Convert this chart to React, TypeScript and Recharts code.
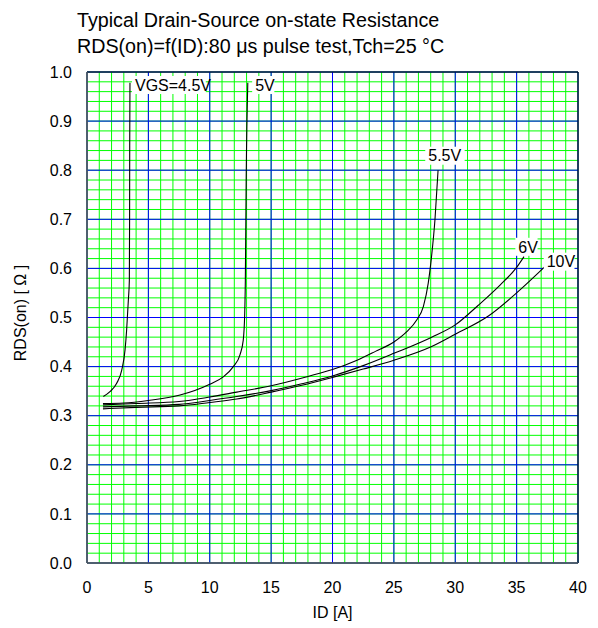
import React from "react";
import {
  LineChart,
  Line,
  XAxis,
  YAxis,
  ReferenceLine,
  ReferenceDot,
  Label,
} from "recharts";

// grid / tick values
const xMajor = [0, 5, 10, 15, 20, 25, 30, 35, 40];
const yMajor = [0, 0.1, 0.2, 0.3, 0.4, 0.5, 0.6, 0.7, 0.8, 0.9, 1.0];
const xMinor = Array.from({ length: 41 }, (_, i) => i);
const yMinor = Array.from({ length: 51 }, (_, i) => +(i * 0.02).toFixed(2));

// curves: [ID (A), RDS(on) (ohm)]
const vgs45 = [
  [1.33, 0.339], [1.87, 0.349], [2.42, 0.366], [2.83, 0.393], [3.1, 0.434],
  [3.23, 0.475], [3.37, 0.536], [3.45, 0.576], [3.47, 0.7], [3.48, 0.85], [3.5, 0.978],
];
const vgs5 = [
  [1.3, 0.325], [3, 0.326], [5, 0.331], [7.58, 0.342], [10, 0.364], [11.1, 0.379],
  [11.92, 0.4], [12.46, 0.424], [12.73, 0.454], [12.85, 0.509], [12.9, 0.576],
  [12.97, 0.787], [13.1, 0.978],
];
const vgs55 = [
  [1.3, 0.322], [4, 0.325], [7.5, 0.329], [10, 0.338], [12.2, 0.348], [15, 0.361],
  [18, 0.38], [20, 0.394], [22, 0.413], [23.5, 0.431], [25, 0.45], [26.05, 0.471],
  [26.86, 0.495], [27.4, 0.522], [27.8, 0.57], [28.05, 0.62], [28.35, 0.7], [28.6, 0.8],
];
const vgs6 = [
  [1.3, 0.318], [4, 0.32], [7.5, 0.323], [10, 0.331], [12.2, 0.339], [15, 0.351],
  [17.5, 0.365], [20, 0.381], [22.5, 0.402], [25, 0.427], [28.08, 0.46], [30, 0.485],
  [31.88, 0.525], [33.65, 0.566], [35, 0.602], [35.6, 0.624],
];
const vgs10 = [
  [1.3, 0.314], [4, 0.317], [7.5, 0.32], [10, 0.327], [12.2, 0.334], [15, 0.348],
  [17.5, 0.362], [20, 0.378], [22.5, 0.395], [25, 0.413], [28.08, 0.441], [30, 0.466],
  [32.7, 0.503], [35, 0.55], [37.45, 0.607],
];

// curve labels: [text, ID, RDS]
const curveLabels: [string, number, number][] = [
  ["VGS=4.5V", 3.91, 0.9735],
  ["5V", 13.7, 0.9735],
  ["5.5V", 27.8, 0.8295],
  ["6V", 35.14, 0.644],
  ["10V", 37.45, 0.6137],
];

const series = [vgs45, vgs5, vgs55, vgs6, vgs10];

const toPts = (a: number[][]) => a.map(([id, r]) => ({ id, r }));

const FONT = '"Liberation Sans", Arial, sans-serif';

const LabelBox = (props: any) => {
  const { cx, cy, text } = props;
  const w = text.length * 8.6 + 5;
  return (
    <g>
      <rect x={cx - 3} y={cy - 9} width={w} height={18} fill="#fff" />
      <text
        x={cx}
        y={cy}
        dy="0.36em"
        fontSize={16}
        fontFamily={FONT}
        fill="#000"
      >
        {text}
      </text>
    </g>
  );
};

export default function App() {
  return (
    <div
      style={{
        position: "absolute",
        left: 0,
        top: 0,
        width: 598,
        height: 628,
        background: "#fff",
        fontFamily: FONT,
      }}
    >
      <div
        style={{
          position: "absolute",
          left: 77,
          top: 10,
          fontSize: 19.7,
          lineHeight: "20px",
          whiteSpace: "nowrap",
        }}
      >
        Typical Drain-Source on-state Resistance
      </div>
      <div
        style={{
          position: "absolute",
          left: 77,
          top: 36,
          fontSize: 19.7,
          lineHeight: "20px",
          whiteSpace: "nowrap",
        }}
      >
        RDS(on)=f(ID):80 μs pulse test,Tch=25 °C
      </div>
      <LineChart
        width={598}
        height={628}
        margin={{ top: 72, right: 20, bottom: 35, left: 27 }}
        style={{ position: "absolute", left: 0, top: 0 }}
      >
        <XAxis
          dataKey="id"
          type="number"
          domain={[0, 40]}
          ticks={xMajor}
          allowDataOverflow
          height={30}
          tickLine={false}
          tickMargin={13}
          axisLine={{ stroke: "#555", strokeWidth: 1.5 }}
          tick={{ fill: "#000", fontSize: 16, fontFamily: FONT }}
        >
          <Label
            value="ID [A]"
            position="bottom"
            offset={14}
            style={{ fill: "#000", fontSize: 16, fontFamily: FONT }}
          />
        </XAxis>
        <YAxis
          dataKey="r"
          type="number"
          domain={[0, 1]}
          ticks={yMajor}
          allowDataOverflow
          width={60}
          tickLine={false}
          tickMargin={9}
          tickFormatter={(v: number) => v.toFixed(1)}
          axisLine={{ stroke: "#555", strokeWidth: 1.5 }}
          tick={{ fill: "#000", fontSize: 16, fontFamily: FONT }}
        >
          <Label
            content={() => (
              <text
                x={20}
                y={313}
                transform="rotate(-90 20 313)"
                textAnchor="middle"
                dy="0.36em"
                fontSize={16}
                fontFamily={FONT}
                fill="#000"
              >
                RDS(on) [ Ω ]
              </text>
            )}
          />
        </YAxis>
        {xMinor.map((v) => (
          <ReferenceLine key={"xm" + v} x={v} stroke="#00ff00" strokeWidth={1} />
        ))}
        {yMinor.map((v) => (
          <ReferenceLine key={"ym" + v} y={v} stroke="#00ff00" strokeWidth={1} />
        ))}
        {xMajor.map((v) => (
          <ReferenceLine key={"xM" + v} x={v} stroke="#0000ff" strokeWidth={1} />
        ))}
        {yMajor.map((v) => (
          <ReferenceLine key={"yM" + v} y={v} stroke="#0000ff" strokeWidth={1} />
        ))}
        <ReferenceLine y={1} stroke="#000" strokeWidth={1} />
        <ReferenceLine x={40} stroke="#000" strokeWidth={1} />
        {series.map((s, i) => (
          <Line
            key={i}
            data={toPts(s)}
            dataKey="r"
            type="monotone"
            stroke="#000"
            strokeWidth={1.1}
            dot={false}
            activeDot={false}
            isAnimationActive={false}
          />
        ))}
        {curveLabels.map(([t, x, y]) => (
          <ReferenceDot
            key={t}
            x={x}
            y={y}
            r={0}
            ifOverflow="visible"
            shape={(p: any) => <LabelBox {...p} text={t} />}
          />
        ))}
      </LineChart>
    </div>
  );
}
